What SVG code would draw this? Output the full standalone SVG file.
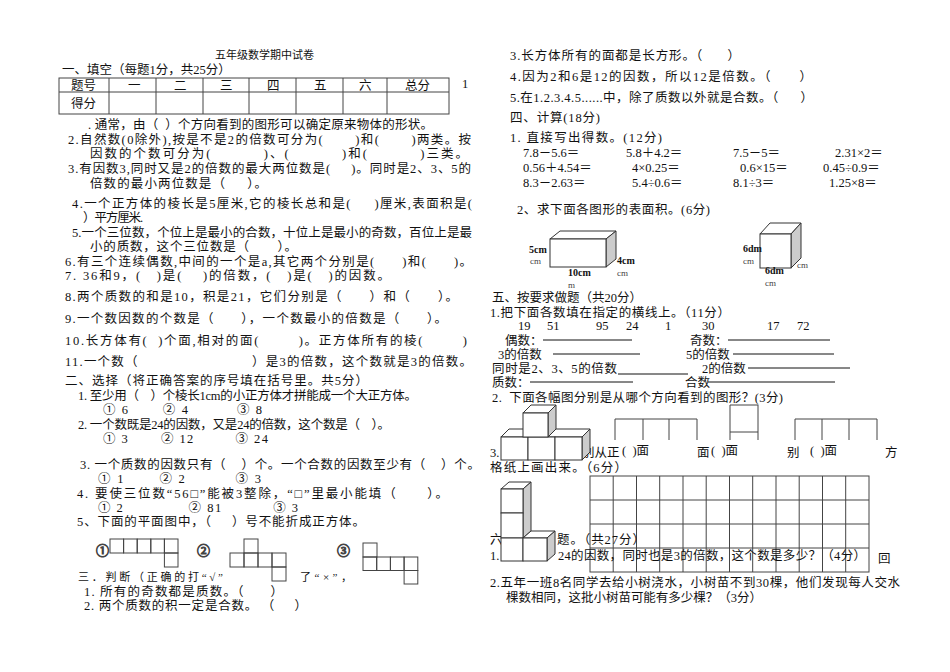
<svg xmlns="http://www.w3.org/2000/svg" width="950" height="672" viewBox="0 0 950 672">
<style>
text{font-family:"Liberation Serif","Noto Sans CJK SC",serif;font-size:12.5px;fill:#111;white-space:pre}
.b{font-weight:bold;font-size:10px}
.s{font-size:9px;fill:#444}
.ln{stroke:#111;stroke-width:1;fill:none}
.cell{stroke:#333;stroke-width:1;fill:#fff}
.gray{fill:#ccc;stroke:#333;stroke-width:1}
.g{stroke:#444;stroke-width:1;fill:none}
.c{font-size:13px}
</style>
<rect width="950" height="672" fill="#fff"/>
<g id="left">
<text x="215" y="59" style="font-size:11px">五年级数学期中试卷</text>
<text x="62" y="74">一、填空（每题1分，共25分）</text>
<g id="table" class="g">
<rect x="59" y="78" width="390" height="36"/>
<line x1="59" y1="92" x2="449" y2="92"/>
<line x1="109" y1="78" x2="109" y2="114"/><line x1="156" y1="78" x2="156" y2="114"/><line x1="203" y1="78" x2="203" y2="114"/><line x1="249" y1="78" x2="249" y2="114"/><line x1="296" y1="78" x2="296" y2="114"/><line x1="343" y1="78" x2="343" y2="114"/><line x1="387" y1="78" x2="387" y2="114"/>
</g>
<text x="71" y="90">题号</text><text x="128" y="90">一</text><text x="174" y="90">二</text><text x="220" y="90">三</text><text x="267" y="90">四</text><text x="314" y="90">五</text><text x="359" y="90">六</text><text x="405" y="90">总分</text>
<text x="71" y="108">得分</text>
<text x="462" y="88">1</text>
<text x="88" y="129" textLength="345" lengthAdjust="spacing">. 通常，由（  ）个方向看到的图形可以确定原来物体的形状。</text>
<text x="68" y="144" textLength="403" lengthAdjust="spacing">2.自然数(0除外),按是不是2的倍数可分为(       )和(       )两类。按</text>
<text x="90" y="158" textLength="378" lengthAdjust="spacing">因数的个数可分为(          )、(          )和(          )三类。</text>
<text x="68" y="173" textLength="403" lengthAdjust="spacing">3.有因数3,同时又是2的倍数的最大两位数是(     )。同时是2、3、5的</text>
<text x="90" y="188" textLength="177" lengthAdjust="spacing">倍数的最小两位数是（     ）。</text>
<text x="72" y="208" textLength="400" lengthAdjust="spacing">4.一个正方体的棱长是5厘米,它的棱长总和是(     )厘米,表面积是(</text>
<text x="83" y="222" textLength="60" lengthAdjust="spacing">）平方厘米.</text>
<text x="72" y="237" textLength="400" lengthAdjust="spacing">5.一个三位数，个位上是最小的合数，十位上是最小的奇数，百位上是最</text>
<text x="90" y="251" textLength="207" lengthAdjust="spacing">小的质数，这个三位数是（       ）。</text>
<text x="65" y="266" textLength="407" lengthAdjust="spacing">6.有三个连续偶数,中间的一个是a,其它两个分别是(      )和(      )。</text>
<text x="65" y="280" textLength="325" lengthAdjust="spacing">7. 36和9，(   )是(    )的倍数，(   )是(   )的因数。</text>
<text x="65" y="301" textLength="393" lengthAdjust="spacing">8.两个质数的和是10，积是21，它们分别是（      ）和（      ）。</text>
<text x="65" y="323" textLength="382" lengthAdjust="spacing">9.一个数因数的个数是（      ），一个数最小的倍数是（      ）。</text>
<text x="65" y="345" textLength="402" lengthAdjust="spacing">10.长方体有(  )个面,相对的面(        )。正方体所有的棱(        )</text>
<text x="65" y="366" textLength="407" lengthAdjust="spacing">11.一个数（                          ）是3的倍数，这个数就是3的倍数。</text>
<text x="65" y="385" textLength="303" lengthAdjust="spacing">二、选择（将正确答案的序号填在括号里。共5分）</text>
<text x="78" y="400" textLength="339" lengthAdjust="spacing">1. 至少用（    ）个棱长1cm的小正方体才拼能成一个大正方体。</text>
<text x="103" y="414" textLength="159" lengthAdjust="spacing">① 6       ② 4          ③ 8</text>
<text x="78" y="429" textLength="312" lengthAdjust="spacing">2. 一个数既是24的因数，又是24的倍数，这个数是（    ）。</text>
<text x="103" y="443" textLength="165" lengthAdjust="spacing">① 3       ② 12         ③ 24</text>
<text x="80" y="469" textLength="400" lengthAdjust="spacing">3. 一个质数的因数只有（    ）个。一个合数的因数至少有（    ）个。</text>
<text x="98" y="483" textLength="163" lengthAdjust="spacing">① 1       ② 2          ③ 3</text>
<text x="77" y="498" textLength="371" lengthAdjust="spacing">4. 要使三位数“56□”能被3整除，“□”里最小能填（      ）。</text>
<text x="98" y="512" textLength="200" lengthAdjust="spacing">① 2              ② 81           ③ 3</text>
<text x="77" y="526" textLength="288" lengthAdjust="spacing">5、下面的平面图中，（     ）号不能折成正方体。</text>
</g>
<g id="nets" class="g">
<text class="c" x="96" y="555">①</text>
<rect x="110" y="539" width="13.6" height="14"/><rect x="123.6" y="539" width="13.6" height="14"/><rect x="137.2" y="539" width="13.6" height="14"/><rect x="150.8" y="539" width="13.6" height="14"/><rect x="164.4" y="539" width="13.6" height="14"/><rect x="164.4" y="553" width="13.6" height="14"/>
<text class="c" x="197" y="555">②</text>
<rect x="244" y="539" width="14" height="14"/><rect x="230" y="553" width="14" height="14"/><rect x="244" y="553" width="14" height="14"/><rect x="258" y="553" width="14" height="14"/><rect x="272" y="553" width="14" height="14"/><rect x="272" y="567" width="14" height="14"/>
<text class="c" x="337" y="555">③</text>
<rect x="363" y="543" width="14" height="14"/><rect x="363" y="557" width="13.7" height="13.5"/><rect x="376.7" y="557" width="13.7" height="13.5"/><rect x="390.4" y="557" width="13.7" height="13.5"/><rect x="404.1" y="557" width="13.7" height="13.5"/><rect x="404.1" y="570.5" width="13.7" height="13.5"/>
</g>
<g id="judge">
<text x="78" y="581" style="font-size:11px" textLength="145" lengthAdjust="spacing">三．判断（正确的打“√”</text>
<text x="300" y="581" style="font-size:11px" textLength="52" lengthAdjust="spacing">了“×”，</text>
<text x="84" y="596" textLength="199" lengthAdjust="spacing">1. 所有的奇数都是质数。（      ）</text>
<text x="84" y="610" textLength="223" lengthAdjust="spacing">2. 两个质数的积一定是合数。 （     ）</text>
</g>
<g id="right">
<text x="510" y="60" textLength="230" lengthAdjust="spacing">3.长方体所有的面都是长方形。（      ）</text>
<text x="510" y="81" textLength="302" lengthAdjust="spacing">4.因为2和6是12的因数，所以12是倍数。（      ）</text>
<text x="510" y="102" textLength="303" lengthAdjust="spacing">5.在1.2.3.4.5......中，除了质数以外就是合数。（      ）</text>
<text x="510" y="122" textLength="90" lengthAdjust="spacing">四、计算(18分)</text>
<text x="510" y="142" textLength="152" lengthAdjust="spacing">1. 直接写出得数。(12分)</text>
<text x="523" y="157">7.8－5.6＝</text><text x="626" y="157">5.8＋4.2＝</text><text x="733" y="157">7.5－5＝</text><text x="835" y="157">2.31×2＝</text>
<text x="523" y="172">0.56＋4.54＝</text><text x="632" y="172">4×0.25＝</text><text x="740" y="172">0.6×15＝</text><text x="823" y="172">0.45÷0.9＝</text>
<text x="523" y="187">8.3－2.63＝</text><text x="632" y="187">5.4÷0.6＝</text><text x="733" y="187">8.1÷3＝</text><text x="829" y="187">1.25×8＝</text>
<text x="517" y="214" textLength="193" lengthAdjust="spacing">2、求下面各图形的表面积。(6分)</text>
</g>
<g id="cuboid">
<polygon class="cell" points="550,239 560,231 616,231 606,239"/>
<polygon class="gray" points="606,239 616,231 616,259 606,267"/>
<rect class="cell" x="550" y="239" width="56" height="28"/>
<text class="b" x="529" y="253">5cm</text><text class="s" x="530" y="264">cm</text>
<text class="b" x="617" y="264">4cm</text><text class="s" x="617" y="276">cm</text>
<text class="b" x="568" y="276">10cm</text><text class="s" x="568" y="288">m</text>
</g>
<g id="cube">
<polygon class="cell" points="760,234 770,223 801,223 791,234"/>
<polygon class="gray" points="791,234 801,223 801,258 791,268"/>
<rect class="cell" x="760" y="234" width="31" height="34"/>
<text class="b" x="743" y="252">6dm</text><text class="s" x="743" y="264">cm</text>
<text class="s" x="797" y="268">cm</text>
<text class="b" x="765" y="274">6dm</text><text class="s" x="765" y="286">cm</text>
</g>
<g id="part5">
<text x="492" y="302" textLength="150" lengthAdjust="spacing">五、按要求做题（共20分）</text>
<text x="490" y="317" textLength="240" lengthAdjust="spacing">1.把下面各数填在指定的横线上。（11分）</text>
<text x="518" y="330">19</text><text x="547" y="330">51</text><text x="596" y="330">95</text><text x="626" y="330">24</text><text x="665" y="330">1</text><text x="702" y="330">30</text><text x="767" y="330">17</text><text x="797" y="330">72</text>
<text x="505" y="345">偶数：</text><line class="ln" x1="543" y1="340" x2="632" y2="340"/>
<text x="690" y="345">奇数：</text><line class="ln" x1="728" y1="340" x2="830" y2="340"/>
<text x="498" y="359">3的倍数</text><line class="ln" x1="553" y1="354" x2="640" y2="354"/>
<text x="686" y="359">5的倍数</text><line class="ln" x1="733" y1="354" x2="834" y2="354"/>
<text x="492" y="373" textLength="125" lengthAdjust="spacing">同时是2、3、5的倍数</text><line class="ln" x1="618" y1="374" x2="688" y2="374"/>
<text x="702" y="373">2的倍数</text><line class="ln" x1="748" y1="368" x2="850" y2="368"/>
<text x="492" y="387">质数：</text><line class="ln" x1="530" y1="382" x2="633" y2="382"/>
<text x="685" y="387">合数</text><line class="ln" x1="708" y1="382" x2="835" y2="382"/>
<text x="492" y="402" textLength="291" lengthAdjust="spacing">2.  下面各幅图分别是从哪个方向看到的图形？(3分)</text>
<text x="490" y="457">3.</text><text x="582" y="457">别从正</text><text x="697" y="457">面</text><text x="787" y="457">别</text><text x="885" y="457">方</text>
<text x="490" y="472" textLength="137" lengthAdjust="spacing">格纸上画出来。（6分）</text>
</g>
<g id="stack">
<polygon class="cell" points="501,437 509,429 590,429 582,437"/>
<polygon class="gray" points="582,437 590,429 590,452 582,460"/>
<rect class="cell" x="501" y="437" width="27" height="23"/><rect class="cell" x="528" y="437" width="27" height="23"/><rect class="cell" x="555" y="437" width="27" height="23"/>
<polygon class="cell" points="523,413 531,405 556,405 548,413"/>
<polygon class="gray" points="548,413 556,405 556,429 548,437"/>
<rect class="cell" x="523" y="413" width="25" height="24"/>
</g>
<g id="views" class="g">
<path d="M615,440 V419 H697 V440 M643,419 V440 M669,419 V440"/>
<path d="M730,440 V405 H758 V440 M730,432 H758"/>
<path d="M795,440 V419 H877 V440 M822,419 V440 M849,419 V440"/>
</g>
<text x="622" y="455">(  )面</text><text x="711" y="455">(  )面</text><text x="810" y="455">(  )面</text>
<g id="grid" class="g">
<rect x="590" y="476" width="279" height="96"/>
<line x1="590" y1="500" x2="869" y2="500"/><line x1="590" y1="524" x2="869" y2="524"/><line x1="590" y1="548" x2="869" y2="548"/>
<line x1="613.2" y1="476" x2="613.2" y2="572"/><line x1="636.5" y1="476" x2="636.5" y2="572"/><line x1="659.7" y1="476" x2="659.7" y2="572"/><line x1="683" y1="476" x2="683" y2="572"/><line x1="706.2" y1="476" x2="706.2" y2="572"/><line x1="729.5" y1="476" x2="729.5" y2="572"/><line x1="752.7" y1="476" x2="752.7" y2="572"/><line x1="776" y1="476" x2="776" y2="572"/><line x1="799.2" y1="476" x2="799.2" y2="572"/><line x1="822.5" y1="476" x2="822.5" y2="572"/><line x1="845.7" y1="476" x2="845.7" y2="572"/>
</g>
<g id="part6">
<text x="490" y="544">六</text><text x="557" y="544" textLength="88" lengthAdjust="spacing">题。（共27分）</text>
<text x="490" y="560">1.</text><text x="558" y="560" textLength="308" lengthAdjust="spacing">24的因数，同时也是3的倍数，这个数是多少？（4分）</text>
<text x="878" y="563">回</text>
<text x="490" y="587" textLength="410" lengthAdjust="spacing">2.五年一班8名同学去给小树浇水，小树苗不到30棵，他们发现每人交水</text>
<text x="506" y="602" textLength="256" lengthAdjust="spacing">棵数相同，这批小树苗可能有多少棵？（3分）</text>
</g>
<g id="lcubes">
<polygon class="cell" points="501,489 509,482 531,482 523,489"/>
<polygon class="gray" points="523,489 531,482 531,531 523,538"/>
<rect class="cell" x="501" y="489" width="22" height="24"/><rect class="cell" x="501" y="513" width="22" height="25"/><rect class="cell" x="501" y="538" width="22" height="23"/>
<polygon class="cell" points="523,538 531,531 555,531 547,538"/>
<polygon class="gray" points="547,538 555,531 555,554 547,561"/>
<rect class="cell" x="523" y="538" width="24" height="23"/>
</g>
</svg>
